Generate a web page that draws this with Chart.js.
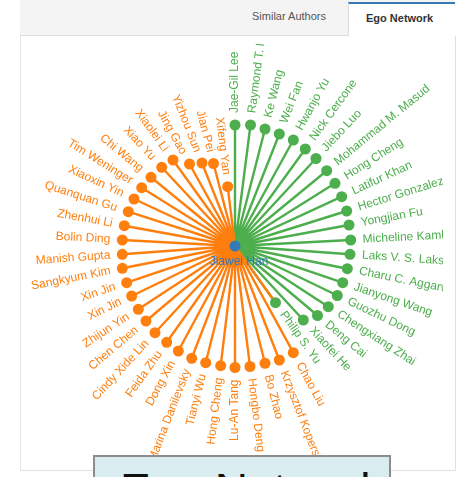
<!DOCTYPE html>
<html>
<head>
<meta charset="utf-8">
<script src="https://cdn.jsdelivr.net/npm/chart.js@4/dist/chart.umd.min.js"></script>
<style>
  html, body { margin: 0; padding: 0; width: 458px; height: 477px; overflow: hidden; background: #fff; font-family: "Liberation Sans", Arial, Helvetica, sans-serif; }
  #tabbar { position: absolute; left: 20px; top: 0; width: 435px; height: 35px; background: #f4f4f4; border-bottom: 1px solid #dcdcdc; }
  #tab1 { position: absolute; left: 232px; top: 10px; font-size: 11px; color: #555; }
  #tab2 { position: absolute; left: 328px; top: 2px; width: 106px; height: 34px; background: #fff; border-top: 2px solid #337ab7; border-left: 1px solid #dcdcdc; }
  #tab2 span { position: absolute; left: 17px; top: 8px; font-size: 11px; font-weight: bold; color: #333; }
  #panel { position: absolute; left: 20px; top: 36px; width: 434px; height: 434px; border-left: 1px solid #e6e6e6; border-right: 1px solid #e0e0e0; border-bottom: 1px solid #e0e0e0; background: #fff; }
  #chart { position: absolute; left: 0; top: 0; }
  #box { position: absolute; left: 93px; top: 455px; width: 294px; height: 40px; border: 2px solid #8c8c8c; background: #d9edf0; overflow: hidden; }
  #box span { position: absolute; left: 25px; top: 10px; font-size: 46px; line-height: 46px; color: #111; white-space: nowrap; }
</style>
</head>
<body>
<div id="tabbar"><span id="tab1">Similar Authors</span><div id="tab2"><span>Ego Network</span></div></div>
<div id="panel"></div>
<canvas id="chart" width="458" height="477"></canvas>
<div id="box"><span>Ego Network</span></div>
<script>
// ---- data ----
const egoName = "Jiawei Han";
const egoX = 235;
const egoY = 246;

const groupANames = ["Jae-Gil Lee","Raymond T. Ng","Ke Wang","Wei Fan","Hwanjo Yu","Nick Cercone","Jiebo Luo","Mohammad M. Masud","Hong Cheng","Latifur Khan","Hector Gonzalez","Yongjian Fu","Micheline Kamber","Laks V. S. Lakshmanan","Charu C. Aggarwal","Jianyong Wang","Guozhu Dong","Chengxiang Zhai","Deng Cai","Xiaofei He","Philip S. Yu"];
const groupAX = [235, 250.5, 265, 279.3, 293.3, 305.3, 316, 326.7, 335, 341.7, 346.7, 349, 350.7, 350, 347.3, 342.7, 337.3, 328.3, 317.5, 303.3, 275.5];
const groupAY = [125, 125, 129, 134, 140, 149, 158.5, 170.7, 183.3, 196.7, 211, 225, 240, 254.3, 268.7, 282.7, 295.5, 306.7, 315.5, 320, 302.7];

const groupBNames = ["Chao Liu","Krzysztof Koperski","Bo Zhao","Hongbo Deng","Lu-An Tang","Hong Cheng","Tianyi Wu","Marina Danilevsky","Dong Xin","Feida Zhu","Cindy Xide Lin","Chen Chen","Zhijun Yin","Xin Jin","Xin Jin","Sangkyum Kim","Manish Gupta","Bolin Ding","Zhenhui Li","Quanquan Gu","Xiaoxin Yin","Tim Weninger","Chi Wang","Xiao Yu","Xiaolei Li","Jing Gao","Yizhou Sun","Jian Pei","Xifeng Yan"];
const groupBX = [293.3, 279.3, 265, 250, 235, 220.7, 205.7, 191.7, 178.3, 166.7, 155, 146, 138.3, 131.7, 126.7, 122.3, 122.3, 122.3, 124.3, 128.3, 134, 141.7, 151, 161.7, 173, 189.5, 202, 213.5, 227.7];
const groupBY = [352.7, 360, 363.3, 366.5, 367.5, 365.7, 362.7, 358.3, 351, 342.3, 332.7, 321, 309.3, 296, 282.7, 268.3, 254.3, 240, 225.7, 211.7, 199, 187.7, 177.3, 167.3, 160, 164, 163, 163.5, 186.7];

// ---- styles ----
const colorA = "#4cae4c";
const colorB = "#ff7f0e";
const colorEgo = "#337ab7";

const groups = [
  { names: groupANames, xs: groupAX, ys: groupAY, color: colorA },
  { names: groupBNames, xs: groupBX, ys: groupBY, color: colorB }
];

// spokes: ego -> node -> ego -> node ...
const spokePts = [], spokeCols = [];
const nodePts = [], nodeCols = [];
groups.forEach(g => {
  g.names.forEach((n, i) => {
    spokePts.push({ x: egoX, y: egoY });
    spokeCols.push(g.color);
    spokePts.push({ x: g.xs[i], y: g.ys[i] });
    spokeCols.push(g.color);
    nodePts.push({ x: g.xs[i], y: g.ys[i], name: n });
    nodeCols.push(g.color);
  });
});

const labelPlugin = {
  id: 'egoLabels',
  afterDatasetsDraw(chart) {
    const ctx = chart.ctx;
    const sx = chart.scales.x, sy = chart.scales.y;
    const cx = sx.getPixelForValue(egoX), cy = sy.getPixelForValue(egoY);
    ctx.save();
    ctx.beginPath();
    ctx.rect(21, 44, 422, 433);
    ctx.clip();
    ctx.font = '12px "Liberation Sans", Arial, Helvetica, sans-serif';
    ctx.textBaseline = 'middle';
    groups.forEach(g => {
      g.names.forEach((name, i) => {
        const px = sx.getPixelForValue(g.xs[i]);
        const py = sy.getPixelForValue(g.ys[i]);
        const a = Math.atan2(py - cy, px - cx);
        ctx.save();
        ctx.translate(px, py);
        ctx.fillStyle = g.color;
        if (a > -Math.PI / 2 - 0.01 && a < Math.PI / 2 - 0.01) {
          ctx.rotate(a);
          ctx.textAlign = 'left';
          ctx.fillText(name, 12, 0);
        } else {
          ctx.rotate(a + Math.PI);
          ctx.textAlign = 'right';
          ctx.fillText(name, -12, 0);
        }
        ctx.restore();
      });
    });
    // ego label
    ctx.fillStyle = colorEgo;
    ctx.textAlign = 'center';
    ctx.fillText(egoName, cx + 4, cy + 16);
    ctx.restore();
  }
};

new Chart(document.getElementById('chart'), {
  type: 'scatter',
  data: {
    datasets: [
      {
        data: spokePts,
        showLine: true,
        pointRadius: 0,
        borderWidth: 2.4,
        borderColor: colorB,
        segment: { borderColor: c => spokeCols[c.p1DataIndex] },
        order: 3
      },
      {
        data: nodePts,
        pointRadius: 5.5,
        pointBackgroundColor: nodeCols,
        pointBorderWidth: 0,
        borderWidth: 0,
        order: 2
      },
      {
        data: [{ x: egoX, y: egoY }],
        pointRadius: 5.5,
        pointBackgroundColor: colorEgo,
        pointBorderWidth: 0,
        borderWidth: 0,
        order: 1
      }
    ]
  },
  options: {
    responsive: false,
    devicePixelRatio: 1,
    animation: false,
    events: [],
    layout: { padding: 0, autoPadding: false },
    plugins: { legend: { display: false }, tooltip: { enabled: false } },
    scales: {
      x: { type: 'linear', min: 0, max: 458, display: false },
      y: { type: 'linear', min: 0, max: 477, reverse: true, display: false }
    }
  },
  plugins: [labelPlugin]
});
</script>
</body>
</html>
